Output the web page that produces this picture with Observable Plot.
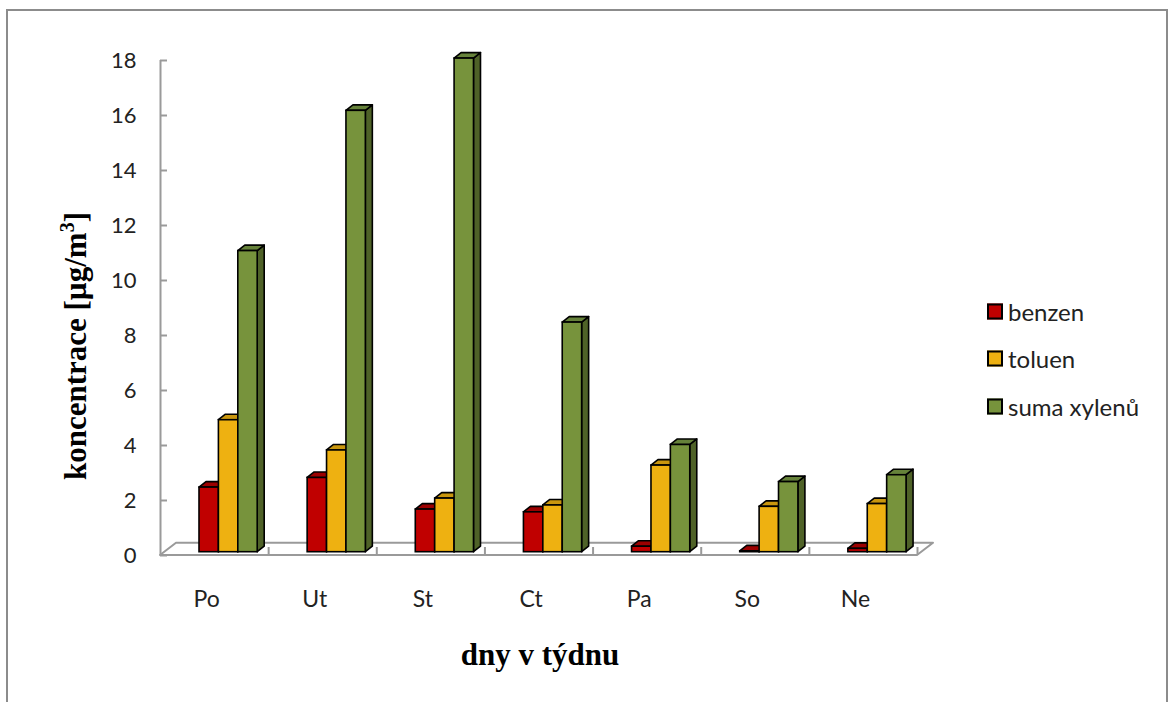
<!DOCTYPE html>
<html><head><meta charset="utf-8">
<script src="https://cdn.jsdelivr.net/npm/d3@7"></script>
<script src="https://cdn.jsdelivr.net/npm/@observablehq/plot@0.6"></script>
<style>
body{margin:0;background:#fff;}
#wrap{position:relative;width:1173px;height:702px;overflow:hidden;}
#chart{position:absolute;left:0;top:0;}
#frame{position:absolute;left:6px;top:9px;width:1162px;height:740px;border:2px solid #8c8c8c;box-sizing:border-box;}
.ytitle{position:absolute;left:75px;top:346px;transform:translate(-50%,-50%) rotate(-90deg);white-space:nowrap;font-family:"Liberation Serif","Times New Roman",serif;font-weight:bold;font-size:31px;color:#000;}
.xtitle{position:absolute;left:540px;top:655px;transform:translate(-50%,-50%);white-space:nowrap;font-family:"Liberation Serif","Times New Roman",serif;font-weight:bold;font-size:31px;color:#000;}
.legend{position:absolute;left:987px;top:0;font-family:Lato,"Open Sans",sans-serif;font-size:24px;color:#222;}
.legend .item{position:absolute;left:0;white-space:nowrap;display:flex;align-items:center;transform:translateY(-50%);}
.legend .sw{width:12px;height:12px;border:2px solid #000;margin-right:5px;}
</style></head>
<body><div id="wrap"><div id="chart"></div><div id="frame"></div>
<div class="ytitle">koncentrace [µg/m<sup style="font-size:0.65em">3</sup>]</div>
<div class="xtitle">dny v týdnu</div>
<div class="legend" id="legend"></div>
</div>
<script>
const days = ["Po","Ut","St","Ct","Pa","So","Ne"];
const seriesNames = ["benzen","toluen","suma xylenů"];
const benzen = [2.35, 2.7, 1.55, 1.45, 0.2, 0.03, 0.12];
const toluen = [4.8, 3.7, 1.95, 1.7, 3.15, 1.65, 1.75];
const xyleny = [10.95, 16.05, 17.95, 8.35, 3.9, 2.55, 2.8];
const yTicks = [0,2,4,6,8,10,12,14,16,18];
const frontColors = ["#C00000","#EEB111","#77933C"];
const topColors = ["#9C0000","#C9960E","#66823A"];
const sideColors = ["#7A0000","#9C7508","#4F6228"];

const seriesValues = [benzen, toluen, xyleny];

// geometry (pixel -> data units)
const W = 1173, H = 702, mL = 160, mR = W - 917, mT = 60, mB = H - 555;
const UX = (W - mL - mR) / days.length;
const UY = (H - mT - mB) / 18;
const barW = 19.4 / UX, groupOff = 39 / UX, base = 3.3 / UY;
const dX = 7 / UX, dY = 5.5 / UY;
const fDX = 16 / UX, fDY = 12.3 / UY;

const rows = [];
seriesValues.forEach((vals, s) => vals.forEach((v, i) => {
  const x1 = i + groupOff + s * barW;
  rows.push({s, i, id: s + "-" + i, x1, x2: x1 + barW, y0: base, y1: base + v});
}));
const sidePts = [], topPts = [];
rows.forEach(r => {
  sidePts.push({s: r.s, id: r.id, x: r.x2, lo: r.y0, hi: r.y1});
  sidePts.push({s: r.s, id: r.id, x: r.x2 + dX, lo: r.y0 + dY, hi: r.y1 + dY});
  topPts.push({s: r.s, id: r.id, x: r.x1, lo: r.y1, hi: r.y1});
  topPts.push({s: r.s, id: r.id, x: r.x1 + dX, lo: r.y1, hi: r.y1 + dY});
  topPts.push({s: r.s, id: r.id, x: r.x2, lo: r.y1, hi: r.y1 + dY});
  topPts.push({s: r.s, id: r.id, x: r.x2 + dX, lo: r.y1 + dY, hi: r.y1 + dY});
});
const n = days.length;
const floorPts = [
  {x: 0, lo: 0, hi: 0},
  {x: fDX, lo: 0, hi: fDY},
  {x: n, lo: 0, hi: fDY},
  {x: n + fDX, lo: fDY, hi: fDY}
];
const gridCol = "#9a9a9a";

const marks = [
  Plot.areaY(floorPts, {x: "x", y1: "lo", y2: "hi", fill: "none", stroke: gridCol, strokeWidth: 2}),
  Plot.ruleX(d3.range(1, n + 1), {y1: 0, y2: 8 / UY, stroke: gridCol, strokeWidth: 2}),
  Plot.ruleX([0], {y1: 0, y2: 18, stroke: gridCol, strokeWidth: 2}),
  Plot.ruleY(yTicks, {x1: 0, x2: 7 / UX, stroke: gridCol, strokeWidth: 2}),
  Plot.axisY({ticks: yTicks, tickSize: 0, tickPadding: 24, label: null, fontSize: 22, fill: "#222"}),
  Plot.axisX({ticks: days.map((d, i) => i + 0.5 - 8 / UX), tickFormat: d => days[Math.floor(d)], tickSize: 0, tickPadding: 35, label: null, fontSize: 23, fill: "#222"})
];
for (let s = 0; s < 3; s++) {
  marks.push(Plot.areaY(sidePts.filter(d => d.s === s), {x: "x", y1: "lo", y2: "hi", z: "id", fill: sideColors[s], stroke: "#000", strokeWidth: 1.6, strokeLinejoin: "round"}));
  marks.push(Plot.areaY(topPts.filter(d => d.s === s), {x: "x", y1: "lo", y2: "hi", z: "id", fill: topColors[s], stroke: "#000", strokeWidth: 1.6, strokeLinejoin: "round"}));
  marks.push(Plot.rect(rows.filter(d => d.s === s), {x1: "x1", x2: "x2", y1: "y0", y2: "y1", fill: frontColors[s], stroke: "#000", strokeWidth: 1.6}));
}

const chart = Plot.plot({
  width: W, height: H,
  marginLeft: mL, marginRight: mR, marginTop: mT, marginBottom: mB,
  x: {type: "linear", domain: [0, n], axis: null},
  y: {type: "linear", domain: [0, 18], axis: null},
  style: {background: "transparent", fontFamily: "Lato, 'Open Sans', sans-serif", overflow: "visible"},
  marks
});
document.getElementById("chart").appendChild(chart);

const legendTops = [311, 358, 406];
const lg = document.getElementById("legend");
seriesNames.forEach((name, s) => {
  const it = document.createElement("div");
  it.className = "item";
  it.style.top = legendTops[s] + "px";
  const sw = document.createElement("div");
  sw.className = "sw";
  sw.style.background = frontColors[s];
  it.appendChild(sw);
  const t = document.createElement("span");
  t.textContent = name;
  it.appendChild(t);
  lg.appendChild(it);
});
</script>
</body></html>
